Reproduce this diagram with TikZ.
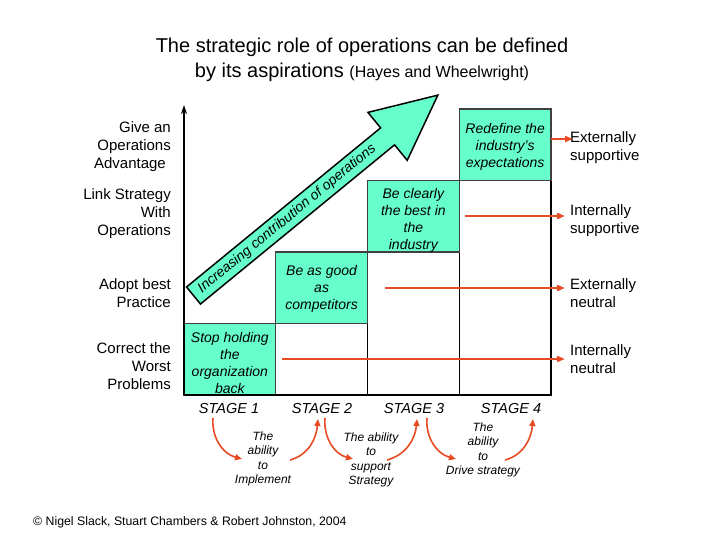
\documentclass[tikz,border=0pt]{standalone}
\usepackage{fontspec}
\setmainfont{Liberation Sans}
\usepackage{tikz}
\usetikzlibrary{arrows.meta, positioning}
\usepackage{xcolor}
\definecolor{mintgreen}{RGB}{102,255,204}
\tikzset{stagefill/.style={fill=mintgreen, draw=black!75, line width=1.2pt},
boxtext/.style={inner sep=0pt, align=center, font=\fontsize{14}{17}\selectfont\itshape},
gridcell/.style={draw=black, line width=1.2pt}}
\definecolor{burntred}{RGB}{230,75,35}
\tikzset{redarrow/.style={draw=burntred, line width=2pt, -{Triangle[length=8pt, width=6pt]}},
redcurve/.style={draw=burntred, line width=1.6pt, -{Triangle[length=7pt, width=6pt]}}}

\begin{document}
\begin{tikzpicture}[
        x=1pt, y=-1pt,
        sidelabel/.style={font=\fontsize{15}{18}\selectfont, inner sep=0pt},
        stagelabel/.style={font=\fontsize{14.5}{17}\selectfont\itshape, inner sep=0pt},
        abilitylabel/.style={font=\fontsize{12}{14.5}\selectfont\itshape, inner sep=0pt, align=center}
    ]
        \useasboundingbox (0,0) rectangle (728,546);
        % Title
        \node[font=\fontsize{20}{25}\selectfont, align=center] (title) at (362,59.5) {The strategic role of operations can be defined\\by its aspirations {\fontsize{16}{25}\selectfont(Hayes and Wheelwright)}};
        % Grid cells
        \foreach \i in {2,3,4} {
            \draw[gridcell] ({184+91.75*(\i-1)}, 395) rectangle ({184+91.75*\i}, {395-71.5*(\i-1)});
        }
        % Boxes
        \foreach \i/\dy/\boxtxt in {
            1/4/{Stop holding\\the\\organization\\back},
            2/1.5/{Be as good\\as\\competitors},
            3/4/{Be clearly\\the best in\\the\\industry},
            4/2/{Redefine the\\industry's\\expectations}} {
            \draw[stagefill] ({184+91.75*(\i-1)}, {395-71.5*(\i-1)}) rectangle ({184+91.75*\i}, {395-71.5*\i});
            \node[boxtext] (box-\i) at ({184+91.75*(\i-0.5)}, {395-71.5*(\i-0.5)+\dy}) {\boxtxt};
        }
        % Axes
        \draw[line width=1.5pt, -{Stealth[length=9pt, width=6pt]}] (184,395) -- (184,105);
        \draw[line width=2pt] (184,395) -- (551,395);
        % Big arrow
        \begin{scope}[shift={(193.5,295.5)}, rotate=39.35]
            \draw[fill=mintgreen, line width=1.5pt, line join=miter] (0,-11) -- (251,-11) -- (251,-31) -- (316,0) -- (251,31) -- (251,11) -- (0,11) -- cycle;
            \node[rotate=39.35, font=\fontsize{14}{16}\selectfont\itshape, inner sep=0pt] (growth) at (121,0) {Increasing contribution of operations};
        \end{scope}
        % Aspiration labels
        \foreach \y/\ltext [count=\n] in {
            147/{Give an\\Operations\\Advantage\hspace*{5pt}},
            214/{Link Strategy\\With\\Operations},
            293/{Adopt best\\Practice},
            366/{Correct the\\Worst\\Problems}} {
            \node[sidelabel, anchor=east, align=right] (aim-\n) at (171,\y) {\ltext};
        }
        % Role labels
        \foreach \y/\rtext [count=\n] in {
            148/{Externally\\supportive},
            221/{Internally\\supportive},
            293/{Externally\\neutral},
            359/{Internally\\neutral}} {
            \node[sidelabel, anchor=west, align=left] (role-\n) at (570,\y) {\rtext};
        }
        % Red arrows
        \foreach \n/\xs/\ys/\gap in {1/551/139/-3, 2/465/216/5, 3/385/288/5, 4/282/359/5} {
            \coordinate (from-\n) at (\xs,\ys);
            \draw[redarrow, shorten >=\gap pt] (from-\n) -- (from-\n -| role-\n.west);
        }
        % Stages
        \foreach \x [count=\n] in {229,322,414,511} {
            \node[stagelabel] (stage-\n) at (\x,409) {STAGE \n};
        }
        % Abilities
        \node[abilitylabel] (ability-1) at (263,459) {The\\ability\\to\\Implement};
        \node[abilitylabel] (ability-2) at (371,460) {The ability\\to\\support\\Strategy};
        \node[abilitylabel] (ability-3) at (483,450) {The\\ability\\to\\Drive strategy};
        \foreach \n/\xa/\xb/\xc/\xd in {1/213/242/290/318, 2/325/353/387/417, 3/427/456/505/533} {
            \coordinate (down-\n) at (\xa,418);
            \coordinate (low-\n) at (\xb,459);
            \coordinate (rise-\n) at (\xc,460);
            \coordinate (up-\n) at (\xd,419);
            \draw[redcurve] (down-\n) to[out=-95, in=165] (low-\n);
            \draw[redcurve] (rise-\n) to[out=15, in=-95] (up-\n);
        }
        % Credit
        \node[font=\fontsize{12.3}{14}\selectfont, anchor=west, inner sep=0pt] (credit) at (33,522) {© Nigel Slack, Stuart Chambers \& Robert Johnston, 2004};
    \end{tikzpicture}
\end{document}
